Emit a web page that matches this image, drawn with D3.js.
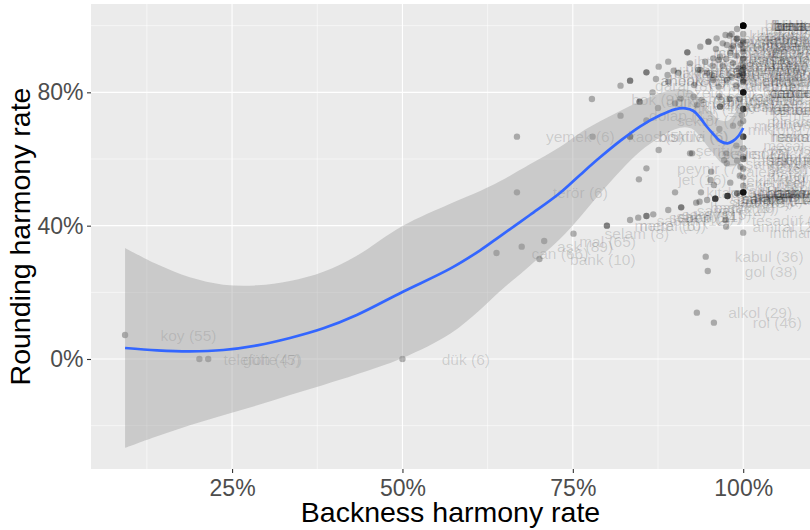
<!DOCTYPE html>
<html><head><meta charset="utf-8">
<script src="https://cdn.jsdelivr.net/npm/d3@7"></script>
<style>
html,body{margin:0;padding:0;background:#fff;}
svg{display:block;font-family:"Liberation Sans",Arial,Helvetica,sans-serif;}
</style>
</head><body>
<svg id="chart" width="810" height="530"></svg>
<script>
// ---- word data: label word, token count, backness rate, rounding rate ----
const words = [
"koy","telefon","güfte","dük","can","aşk","mal","bank","selam","terör",
"yemek","kabul","gol","alkol","rol","amiral","intihar","kaos","bok","sektör",
"peynir","jet","şerif","oksijen","garaj","bonfile","bisküvi","metal","metre","sabah",
"sebep","sahil","sakal","saray","sanat","baskı","batak","sıfat","saat","sabun",
"baharat","bakkal","bahçe","salata","balkon","banyo","bayram","sanayi","bahar","battaniye",
"badem","bardak","bavul","bakır","basamak","barış","balık","kitap","kalem","ahenk",
"ahbap","dikkat","hakikat","hesap","ihtimal","istikbal","merak","millet","kuvvet","mevsim",
"mahkeme","kabiliyet","maharet","basit","bereket","berber","beton","bilet","bina","boya",
"buhar","dolap","dikta","dünya","gazete","fikir","hatıra","hayat","hediye","hikaye",
"insan","kader","kahve","kafes","kağıt","kanal","karakter","kelime","kemer","kimya",
"klasik","kontrol","kural","liman","lokanta","mantık","masal","maske","meclis","medeniyet",
"memur","mektup","menü","misafir","muhabbet","müdür","müzik","nasihat","nefes","numara",
"okyanus","opera","pasta","pencere","perde","piyano","plan","polis","portakal","program",
"cereyan","cephe","cadde","cami","rakam","rehber","resim","saksı","servis","sigara",
"sinema","sistem","sokak","şampiyon","şarkı","şeker","şehir","tabak","talebe","teklif",
"tekrar","tembel","tesadüf","vapur","vakit","zaman","zarar","zevk","ders","dert",
"fasulye","fırsat","gazino","hafta","hakem","hamam","harita","hasta","havuz","hazır",
"hürmet","ilan","imkan","kadar","kalite","kampanya","kanun","kasap","kasket","kayıt",
"kibrit","konser","kumar","lamba","mahalle","marka","mermer","mesaj","mikrop","minare",
"moda","motor","otel"];
const counts = [
55,47,5,6,66,89,65,10,8,6,
6,36,38,29,46,24,12,5,9,7,
7,16,7,9,8,6,6,6,10,12,
9,14,11,15,22,10,8,13,41,9,
17,14,25,11,19,16,33,12,20,8,
10,21,9,13,18,27,30,34,26,7,
6,15,9,28,11,8,19,23,13,17,
14,7,6,20,12,9,11,24,18,16,
10,13,9,45,21,18,10,52,14,19,
61,12,27,8,22,15,11,25,9,7,
10,20,16,13,9,14,17,8,12,6,
15,23,7,19,11,16,31,6,14,18,
7,8,12,20,15,9,17,34,11,22,
10,14,19,26,13,9,21,8,12,18,
16,14,23,7,20,15,27,10,9,13,
18,8,6,11,14,40,12,10,11,24,
9,19,13,30,8,12,17,22,10,15,
26,7,14,9,18,20,11,16,13,8,
25,12,19,14,10,9,15,21,7,12,
18,23,16];
const backness = [
0.093,0.202,0.215,0.500,0.638,0.675,0.708,0.701,0.751,0.668,
0.668,0.945,0.948,0.932,0.957,0.975,1.000,0.779,0.778,0.858,
0.858,0.847,0.876,0.922,0.820,0.834,0.834,0.800,0.800,0.834,
0.846,0.858,0.858,0.868,0.890,0.909,0.909,0.931,0.936,0.947,
0.959,0.959,0.959,0.959,0.977,0.977,0.977,0.977,0.991,0.991,
1,1,1,1,1,1,1,0.900,0.938,0.834,
0.834,0.858,0.858,0.876,0.890,0.918,0.918,0.937,0.949,0.949,
0.961,0.974,0.991,1,1,1,1,1,1,1,
1,0.820,0.848,0.848,0.867,0.875,0.908,0.928,0.927,0.932,
0.956,0.947,0.934,0.944,0.964,0.965,0.966,0.966,0.998,0.996,
0.970,0.981,0.985,0.996,0.872,0.898,0.905,0.889,0.922,0.937,
0.954,0.976,0.983,0.993,0.964,0.939,0.900,0.956,0.966,0.976,
0.983,0.890,1,1,1,1,1,1,1,1,
1,1,1,1,1,1,1,1,1,1,
1,1,0.975,0.976,0.991,0.996,0.925,0.972,0.953,0.952,
0.957,0.981,0.974,1,0.983,0.991,1,1,1,1,
1,1,1,1,1,1,1,1,1,1,
1,1,1,1,0.990,0.985,0.980,0.975,0.970,0.990,
0.995,0.960,0.955,0.990,0.980,0.995,0.985,0.990,0.965,1,
1,0.995,1];
const rounding = [
0.072,0,0,0,0.318,0.337,0.354,0.300,0.376,0.500,
0.667,0.307,0.264,0.139,0.109,0.397,0.379,0.667,0.780,0.716,
0.572,0.539,0.627,0.617,0.820,0.667,0.667,0.400,0.400,0.417,
0.424,0.429,0.429,0.434,0.447,0.455,0.455,0.469,0.472,0.477,
0.481,0.481,0.481,0.481,0.489,0.489,0.489,0.489,0.497,0.497,
0.5,0.5,0.5,0.5,0.5,0.5,0.5,0.5,0.5,0.835,
0.835,0.860,0.860,0.877,0.892,0.920,0.920,0.937,0.952,0.952,
0.962,0.972,0.990,1,1,1,1,1,1,1,
1,0.730,0.772,0.772,0.800,0.753,0.781,0.822,0.787,0.762,
0.837,0.859,0.867,0.892,0.897,0.787,0.757,0.757,0.732,0.707,
0.947,0.918,0.888,0.942,0.840,0.865,0.859,0.852,0.887,0.867,
0.852,0.837,0.847,0.872,0.817,0.777,0.767,0.902,0.907,0.942,
0.932,0.832,0.932,0.922,0.902,0.882,0.867,0.852,0.837,0.832,
0.8,0.8,0.8,0.8,0.75,0.75,0.667,0.667,0.632,0.607,
0.6,0.571,0.617,0.587,0.595,0.577,0.617,0.597,0.562,0.537,
0.522,0.529,0.417,0.545,0.975,0.962,0.955,0.975,1,1,
1,1,0.8,0.8,0.8,0.75,0.75,0.667,0.667,0.9,
0.95,0.875,0.857,0.833,0.96,0.94,0.97,0.9,0.88,0.91,
0.85,0.93,0.88,0.82,0.78,0.78,0.70,0.64,0.69,0.714,
0.6,0.55,0.52];

// ---- smoother (loess fit) ----
const fitX  = [0.093,0.140,0.188,0.237,0.287,0.335,0.384,0.433,0.500,0.570,0.614,0.643,0.687,0.731,0.761,0.790,0.820,0.849,0.878,0.900,0.915,0.927,0.937,0.947,0.956,0.966,0.977,0.985,0.993,1.000];
const fitY  = [0.033,0.026,0.023,0.027,0.041,0.063,0.092,0.132,0.201,0.271,0.326,0.368,0.432,0.498,0.553,0.605,0.655,0.698,0.731,0.749,0.752,0.744,0.723,0.696,0.675,0.654,0.647,0.654,0.669,0.693];
const fitLo = [-0.267,-0.232,-0.199,-0.169,-0.139,-0.108,-0.078,-0.046,0.003,0.076,0.148,0.203,0.280,0.360,0.427,0.497,0.565,0.623,0.665,0.689,0.695,0.688,0.667,0.640,0.617,0.592,0.579,0.578,0.584,0.598];
const fitHi = [0.333,0.284,0.245,0.223,0.221,0.234,0.262,0.310,0.399,0.466,0.504,0.533,0.584,0.636,0.679,0.713,0.745,0.773,0.797,0.809,0.809,0.800,0.779,0.752,0.733,0.716,0.715,0.730,0.754,0.788];

// ---- axes ----
const xMajor = [0.25,0.5,0.75,1.0];
const xMinor = [0.125,0.375,0.625,0.875];
const yMajor = [0,0.4,0.8];
const yMinor = [-0.2,0.2,0.6,1.0];
const xTitle = "Backness harmony rate";
const yTitle = "Rounding harmony rate";
const labelNudge = 0.093;

const svg = d3.select("#chart");
const P = {left:91, right:810, top:4, bottom:469};
const x = d3.scaleLinear().domain([0.043,1.098]).range([P.left,P.right]);
const y = d3.scaleLinear().domain([-0.33,1.065]).range([P.bottom,P.top]);
const pct = d3.format(".0%");

svg.append("defs").append("clipPath").attr("id","clip")
  .append("rect").attr("x",P.left).attr("y",P.top)
  .attr("width",P.right-P.left).attr("height",P.bottom-P.top);

svg.append("rect").attr("x",P.left).attr("y",P.top)
  .attr("width",P.right-P.left).attr("height",P.bottom-P.top).attr("fill","#EBEBEB");

const grid = svg.append("g").attr("clip-path","url(#clip)");
grid.selectAll(".xmin").data(xMinor).join("line")
  .attr("x1",d=>x(d)).attr("x2",d=>x(d)).attr("y1",P.top).attr("y2",P.bottom)
  .attr("stroke","#fff").attr("stroke-width",0.55);
grid.selectAll(".ymin").data(yMinor).join("line")
  .attr("y1",d=>y(d)).attr("y2",d=>y(d)).attr("x1",P.left).attr("x2",P.right)
  .attr("stroke","#fff").attr("stroke-width",0.55);
grid.selectAll(".xmaj").data(xMajor).join("line")
  .attr("x1",d=>x(d)).attr("x2",d=>x(d)).attr("y1",P.top).attr("y2",P.bottom)
  .attr("stroke","#fff").attr("stroke-width",1.1);
grid.selectAll(".ymaj").data(yMajor).join("line")
  .attr("y1",d=>y(d)).attr("y2",d=>y(d)).attr("x1",P.left).attr("x2",P.right)
  .attr("stroke","#fff").attr("stroke-width",1.1);

const idx = d3.range(words.length);
const plot = svg.append("g").attr("clip-path","url(#clip)");

plot.append("g").selectAll("circle").data(idx).join("circle")
  .attr("cx",i=>x(backness[i])).attr("cy",i=>y(rounding[i])).attr("r",3.2)
  .attr("fill","#000").attr("fill-opacity",0.28);

plot.append("g").selectAll("text").data(idx).join("text")
  .attr("x",i=>x(backness[i]+labelNudge)).attr("y",i=>y(rounding[i]))
  .attr("dy","0.36em").attr("text-anchor","middle")
  .attr("font-size","15.5px").attr("fill","#000").attr("fill-opacity",0.14)
  .text(i=>`${words[i]} (${counts[i]})`);

const fit = d3.range(fitX.length);
const cr = d3.curveCatmullRom.alpha(0.5);
plot.append("path").datum(fit)
  .attr("d", d3.area().x(i=>x(fitX[i])).y0(i=>y(fitLo[i])).y1(i=>y(fitHi[i])).curve(cr))
  .attr("fill","#999999").attr("fill-opacity",0.4);
plot.append("path").datum(fit)
  .attr("d", d3.line().x(i=>x(fitX[i])).y(i=>y(fitY[i])).curve(cr))
  .attr("fill","none").attr("stroke","#3366FF").attr("stroke-width",2.7);

// axes
const ax = svg.append("g").attr("transform",`translate(0,${P.bottom})`)
  .call(d3.axisBottom(x).tickValues(xMajor).tickFormat(pct).tickSize(4).tickSizeOuter(0).tickPadding(7));
const ay = svg.append("g").attr("transform",`translate(${P.left},0)`)
  .call(d3.axisLeft(y).tickValues(yMajor).tickFormat(pct).tickSize(4).tickSizeOuter(0).tickPadding(3.5));
[ax,ay].forEach(a=>{
  a.select(".domain").remove();
  a.selectAll("line").attr("stroke","#333333").attr("stroke-width",1.1);
  a.selectAll("text").attr("fill","#4D4D4D").attr("font-size","23px")
    .attr("font-family",'"Liberation Sans",Arial,Helvetica,sans-serif');
});

svg.append("text").attr("x",(P.left+P.right)/2).attr("y",522)
  .attr("text-anchor","middle").attr("font-size","28.5px").attr("fill","#000").text(xTitle);
svg.append("text").attr("transform",`translate(30,${(P.top+P.bottom)/2}) rotate(-90)`)
  .attr("text-anchor","middle").attr("font-size","28.5px").attr("fill","#000").text(yTitle);
</script>
</body></html>
